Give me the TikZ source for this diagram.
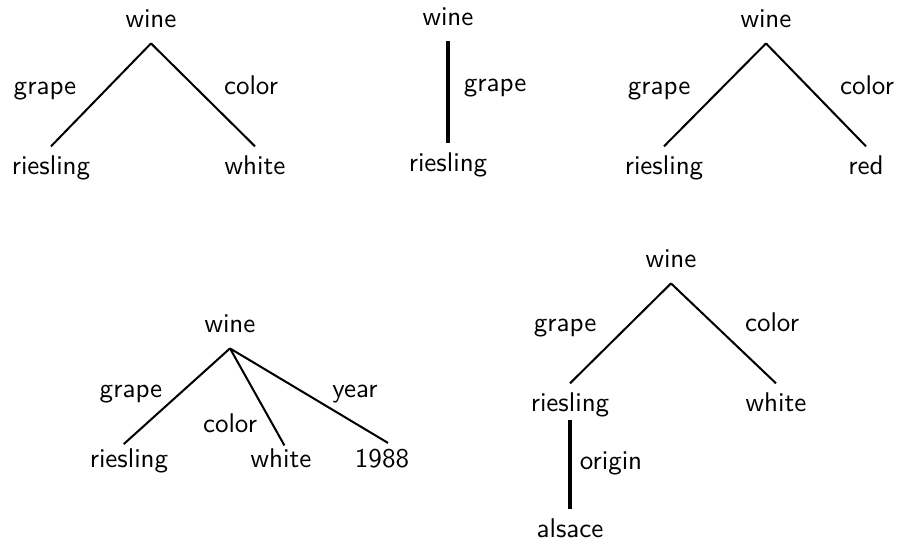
\documentclass[tikz,border=0pt]{standalone}
\begin{document}
\begin{tikzpicture}[x=0.013cm, y=-0.013cm,
    word/.style={font=\sffamily, anchor=base, inner xsep=0pt, inner ysep=3.4pt,
                 text height=7pt, text depth=2.1pt},
    lbl/.style={font=\sffamily, anchor=base, inner sep=0pt},
    edge/.style={line width=0.75pt},
    stem/.style={line width=1.3pt}]
    \useasboundingbox (0,0) rectangle (898,548);

    % --- Tree 1: grape and color ---
    \node[word] (wineA) at (151,28) {wine};
    \node[word] (rieslingA) at (51,175) {riesling};
    \node[word] (whiteA) at (255,175) {white};
    \draw[edge] (wineA.south) -- (rieslingA.north);
    \draw[edge] (wineA.south) -- (whiteA.north);
    \node[lbl] (grapeA) at (45,95) {grape};
    \node[lbl] (colorA) at (251,95) {color};

    % --- Tree 2: grape only ---
    \node[word] (wineB) at (448,26) {wine};
    \node[word] (rieslingB) at (448,172) {riesling};
    \draw[stem] (wineB.south) -- (rieslingB.north);
    \node[lbl] (grapeB) at (495,92) {grape};

    % --- Tree 3: red instead of white ---
    \node[word] (wineC) at (766,28) {wine};
    \node[word] (rieslingC) at (664,175) {riesling};
    \node[word] (redC) at (866,175) {red};
    \draw[edge] (wineC.south) -- (rieslingC.north);
    \draw[edge] (wineC.south) -- (redC.north);
    \node[lbl] (grapeC) at (659,95) {grape};
    \node[lbl] (colorC) at (867,95) {color};

    % --- Tree 4: three features ---
    \node[word] (wineD) at (230,333) {wine};
    \node[word] (rieslingD) at (129,468) {riesling};
    \node[word] (whiteD) at (281,468) {white};
    \node[word] (yearD) at (382,468) {1988};
    \draw[edge, shorten >=-2.6pt] (wineD.south) -- (rieslingD.north);
    \draw[edge, shorten >=-2.6pt] (wineD.south) -- (whiteD.north);
    \draw[edge, shorten >=-2.6pt] (wineD.south) -- (yearD.north);
    \node[lbl] (grapeD) at (131,398) {grape};
    \node[lbl] (colorD) at (230,433) {color};
    \node[lbl] (labelYearD) at (355,398) {year};

    % --- Tree 5: nested origin ---
    \node[word] (wineE) at (671,268) {wine};
    \node[word] (rieslingE) at (570,412) {riesling};
    \node[word] (whiteE) at (776,412) {white};
    \node[word] (alsaceE) at (570,538) {alsace};
    \draw[edge] (wineE.south) -- (rieslingE.north);
    \draw[edge] (wineE.south) -- (whiteE.north);
    \draw[stem, shorten <=-2.6pt] (rieslingE.south) -- (alsaceE.north);
    \node[lbl] (grapeE) at (565,332) {grape};
    \node[lbl] (colorE) at (772,332) {color};
    \node[lbl] (originE) at (611,470) {origin};

\end{tikzpicture}
\end{document}
